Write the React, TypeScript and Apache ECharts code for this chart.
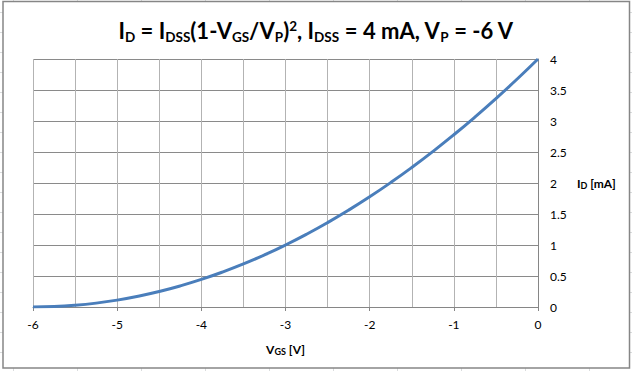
import React, { useEffect, useRef } from "react";
import * as echarts from "echarts";

const vgsValues = [-6, -5.75, -5.5, -5.25, -5, -4.75, -4.5, -4.25, -4, -3.75, -3.5, -3.25, -3, -2.75, -2.5, -2.25, -2, -1.75, -1.5, -1.25, -1, -0.75, -0.5, -0.25, 0];
const idValues = [0, 0.0069, 0.0278, 0.0625, 0.1111, 0.1736, 0.25, 0.3403, 0.4444, 0.5625, 0.6944, 0.8403, 1, 1.1736, 1.3611, 1.5625, 1.7778, 2.0069, 2.25, 2.5069, 2.7778, 3.0625, 3.3611, 3.6736, 4];

const titleText = "{m|I}{s|D}{m| = I}{s|DSS}{m|(1-V}{s|GS}{m|/V}{s|P}{m|)}{p|2}{m|, I}{s|DSS}{m| = 4 mA, V}{s|P}{m| = -6 V}";
const xName = "{m|V}{s|GS}{m| [V]}";
const yName = "{m|I}{s|D}{m| [mA]}";

const FONT = "Lato, 'Open Sans', sans-serif";

export default function App() {
  const ref = useRef<HTMLDivElement>(null);
  useEffect(() => {
    if (!ref.current) return;
    const chart = echarts.init(ref.current, null, { renderer: "svg" });
    const bg: any[] = [];
    for (let x = 13; x < 632; x += 64) {
      bg.push({ type: "line", z: -20, silent: true, shape: { x1: x + 0.5, y1: 0, x2: x + 0.5, y2: 371 }, style: { stroke: "#dadcdd", lineWidth: 1 } });
    }
    for (let y = 12; y < 371; y += 20) {
      bg.push({ type: "line", z: -20, silent: true, shape: { x1: 0, y1: y + 0.5, x2: 632, y2: y + 0.5 }, style: { stroke: "#dadcdd", lineWidth: 1 } });
    }
    bg.push({ type: "rect", z: -10, silent: true, shape: { x: 3, y: 1.5, width: 626.5, height: 366.5 }, style: { fill: "#ffffff", stroke: "#868686", lineWidth: 1.5 } });

    const subBase = { fontFamily: FONT, color: "#000" };
    chart.setOption({
      animation: false,
      backgroundColor: "#ffffff",
      graphic: bg,
      title: {
        text: titleText,
        left: "center",
        top: 10,
        textStyle: {
          rich: {
            m: { ...subBase, fontSize: 22, fontWeight: "bold", lineHeight: 30 },
            s: { ...subBase, fontSize: 13.5, fontWeight: "bold", lineHeight: 13, padding: [13, 0, 0, 0] },
            p: { ...subBase, fontSize: 13.5, fontWeight: "bold", lineHeight: 13, padding: [0, 0, 9, 0] },
          },
        },
      },
      grid: { left: 33, right: 94, top: 59, bottom: 64, containLabel: false, outerBoundsMode: "none" },
      xAxis: {
        type: "value",
        min: -6,
        max: 0,
        interval: 1,
        name: xName,
        nameLocation: "middle",
        nameGap: 36,
        nameTextStyle: {
          rich: {
            m: { ...subBase, fontSize: 12, fontWeight: "bold" },
            s: { ...subBase, fontSize: 9, fontWeight: "bold", padding: [4, 0, 0, 0] },
          },
        },
        axisLine: { show: true, onZero: false, lineStyle: { color: "#868686", width: 1 } },
        axisTick: { show: true, length: 4, inside: false, lineStyle: { color: "#868686" } },
        axisLabel: { color: "#000", fontSize: 12, fontFamily: FONT, margin: 11 },
        splitLine: { show: true, lineStyle: { color: "#b3b3b3", width: 1 } },
        minorTick: { show: false, splitNumber: 2 },
        minorSplitLine: { show: true, lineStyle: { color: "#b3b3b3", width: 1 } },
      },
      yAxis: {
        type: "value",
        position: "right",
        min: 0,
        max: 4,
        interval: 0.5,
        name: yName,
        nameLocation: "middle",
        nameRotate: 0,
        nameGap: 39,
        nameTextStyle: {
          align: "left",
          rich: {
            m: { ...subBase, fontSize: 12, fontWeight: "bold" },
            s: { ...subBase, fontSize: 9, fontWeight: "bold", padding: [4, 0, 0, 0] },
          },
        },
        axisLine: { show: true, lineStyle: { color: "#868686", width: 1 } },
        axisTick: { show: false },
        axisLabel: { color: "#000", fontSize: 12, fontFamily: FONT, margin: 12 },
        splitLine: { show: true, lineStyle: { color: "#8a8a8a", width: 1 } },
      },
      series: [
        {
          type: "line",
          data: vgsValues.map((v, i) => [v, idValues[i]]),
          smooth: true,
          showSymbol: false,
          symbol: "none",
          lineStyle: { color: "#4a7ebb", width: 3 },
        },
      ],
    });
    return () => chart.dispose();
  }, []);
  return <div ref={ref} style={{ position: "fixed", left: 0, top: 0, width: 632, height: 371 }} />;
}
